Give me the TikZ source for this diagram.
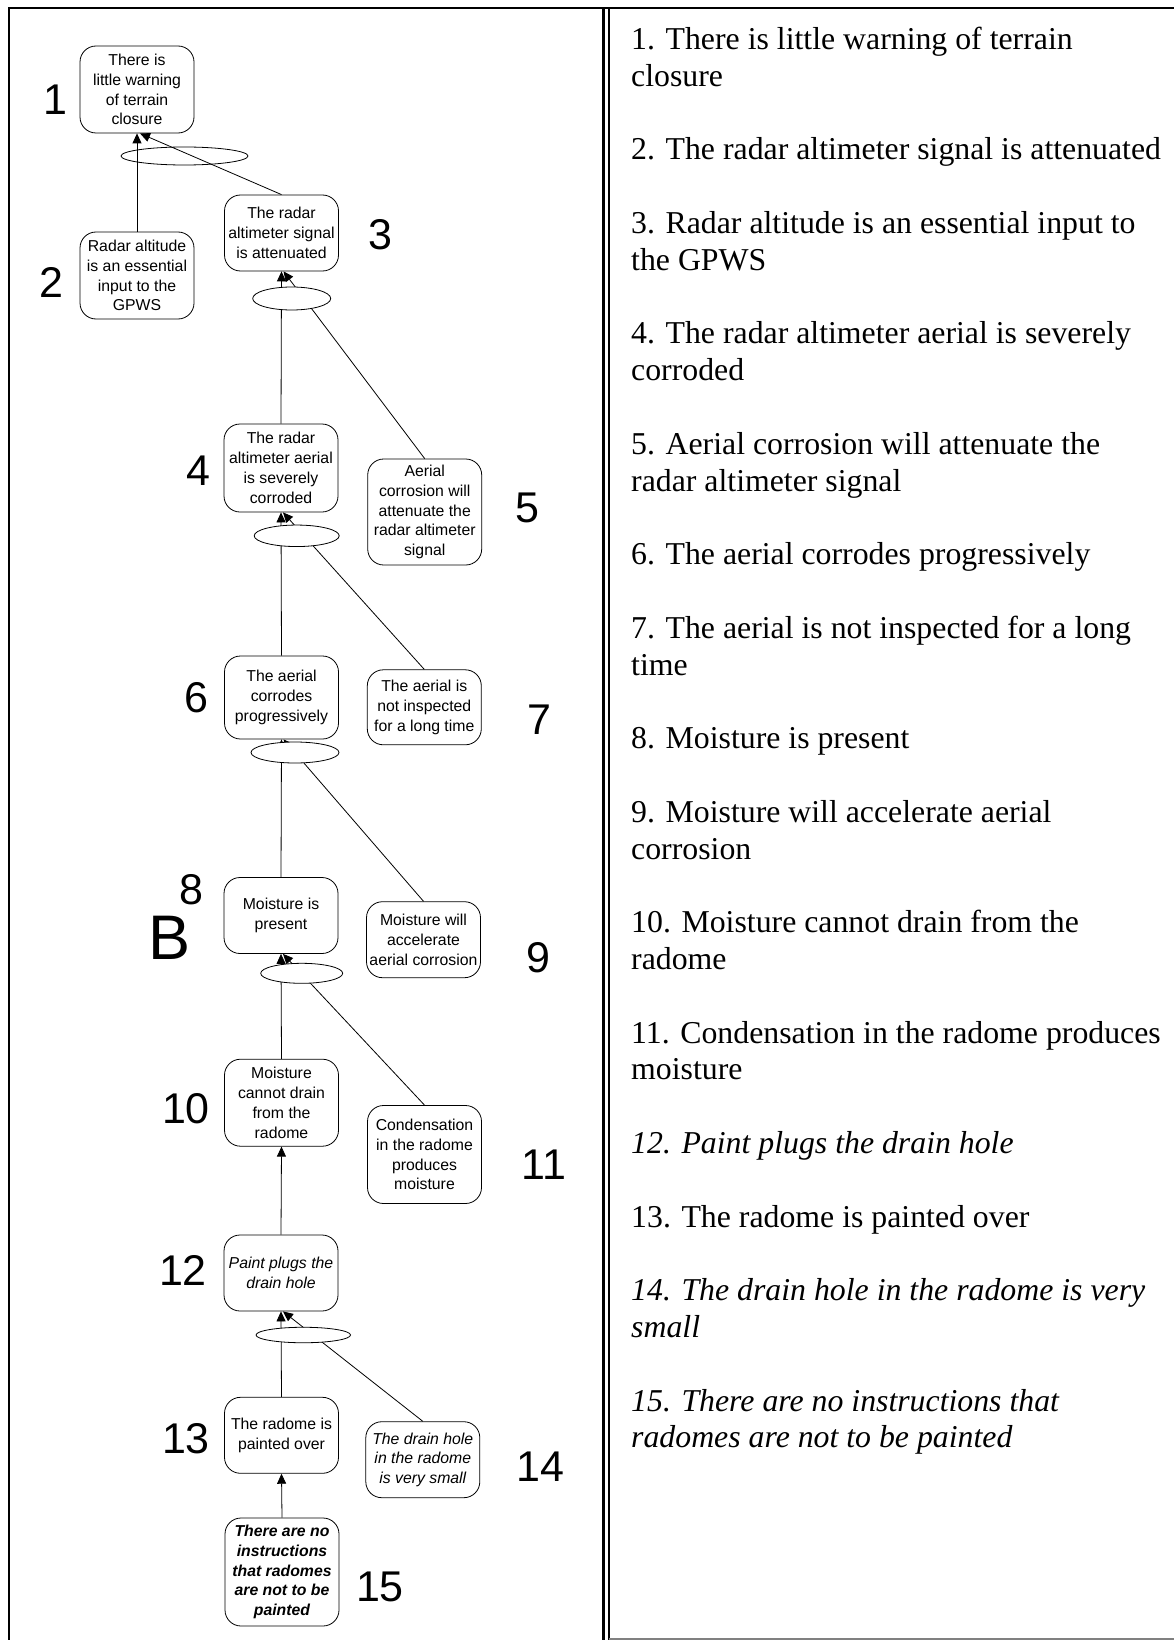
\documentclass[tikz,border=0pt]{standalone}
\usepackage{fontspec}
\setmainfont{Liberation Serif}
\newfontfamily\arial{Liberation Sans}
\usetikzlibrary{arrows.meta,shapes.geometric}

\begin{document}
\begin{tikzpicture}[x=1pt,y=-1pt,
  claim/.style={draw, line width=0.8pt, rounded corners=16pt, minimum width=114pt,
    align=center, inner sep=2pt, font=\arial\fontsize{15.8}{19.8}\selectfont},
  junction/.style={draw, ellipse, line width=0.8pt, inner sep=0pt, fill=white},
  openjunction/.style={draw, ellipse, line width=0.8pt, inner sep=0pt},
  num/.style={font=\arial\fontsize{43}{43}\selectfont, inner sep=0pt},
  link/.style={line width=0.8pt, -{Triangle[length=10pt,width=9pt]}},
  listline/.style={anchor=base west, inner sep=0pt, font=\fontsize{31.8}{36.8}\selectfont},
  panelrule/.style={line width=2.3pt}
]
\useasboundingbox (0,0) rectangle (1174,1640);

% panel frames
\draw[panelrule] (9.2,1640) -- (9.2,7.8) -- (1174,7.8);
\draw[panelrule] (603.5,7.8) -- (603.5,1640);
\draw[panelrule] (608.8,7.8) -- (608.8,1640);
\draw[line width=1.6pt, gray] (608.8,1639.2) -- (1174,1639.2);

% claims
\node[claim, minimum height=87pt] (n1) at (137,89.5) {There is\\little warning\\of terrain\\closure};
\node[claim, minimum height=87pt] (n2) at (137,275.5) {Radar altitude\\is an essential\\input to the\\GPWS};
\node[claim, minimum height=76pt] (n3) at (281.5,233) {The radar\\altimeter signal\\is attenuated};
\node[claim, minimum height=88pt] (n4) at (281,468) {The radar\\altimeter aerial\\is severely\\corroded};
\node[claim, minimum height=106pt] (n5) at (424.7,512) {Aerial\\corrosion will\\attenuate the\\radar altimeter\\signal};
\node[claim, minimum height=83pt] (n6) at (281.5,697.5) {The aerial\\corrodes\\progressively};
\node[claim, minimum height=75pt] (n7) at (424.3,707.3) {The aerial is\\not inspected\\for a long time};
\node[claim, minimum height=76pt] (n8) at (281,915.5) {Moisture is\\present};
\node[claim, minimum height=76pt] (n9) at (423.5,939.7) {Moisture will\\accelerate\\aerial corrosion};
\node[claim, minimum height=87pt] (n10) at (281.5,1102.7) {Moisture\\cannot drain\\from the\\radome};
\node[claim, minimum height=98pt] (n11) at (424.5,1154.5) {Condensation\\in the radome\\produces\\moisture};
\node[claim, minimum height=76pt, font=\arial\itshape\fontsize{15.8}{19.8}\selectfont] (n12) at (281,1273) {Paint plugs the\\drain hole};
\node[claim, minimum height=76pt] (n13) at (281.5,1435.3) {The radome is\\painted over};
\node[claim, minimum height=76pt, font=\arial\itshape\fontsize{15.8}{19.8}\selectfont] (n14) at (422.8,1459.7) {The drain hole\\in the radome\\is very small};
\node[claim, minimum height=108pt, font=\arial\bfseries\itshape\fontsize{15.8}{19.8}\selectfont] (n15) at (282,1572) {There are no\\instructions\\that radomes\\are not to be\\painted};

% inference links
\draw[link] (n2.north) -- (n1.south);
\draw[link] (n3.north) -- ([xshift=3pt]n1.south);
\draw[link] (n4.north) -- (n3.south);
\draw[link] (n5.north) -- ([xshift=2pt]n3.south);
\draw[link] (n6.north) -- (n4.south);
\draw[link] (n7.north) -- ([xshift=2pt]n4.south);
\draw[link] (n8.north) -- (n6.south);
\draw[link] (n9.north) -- ([xshift=2pt]n6.south);
\draw[link] (n10.north) -- (n8.south);
\draw[link] (n11.north) -- ([xshift=2pt]n8.south);
\draw[link] (n12.north) -- (n10.south);
\draw[link] (n13.north) -- (n12.south);
\draw[link] (n14.north) -- ([xshift=2pt]n12.south);
\draw[link] (n15.north) -- (n13.south);

% linked-premise junctions
\node[openjunction, minimum width=127pt, minimum height=18pt] (j1) at (184.5,156) {};
\node[junction, minimum width=78pt, minimum height=23pt] (j2) at (291.7,298.5) {};
\node[junction, minimum width=85pt, minimum height=21.5pt] (j3) at (296.7,535.8) {};
\node[junction, minimum width=88pt, minimum height=21pt] (j4) at (295,752.5) {};
\node[junction, minimum width=82pt, minimum height=20pt] (j5) at (301.7,973.3) {};
\node[junction, minimum width=94.5pt, minimum height=15.5pt] (j6) at (303.3,1335) {};

% claim numbers
\node[num] (l1) at (55,100) {1};
\node[num] (l2) at (51.5,282) {2};
\node[num] (l3) at (380,235) {3};
\node[num] (l4) at (198,471) {4};
\node[num] (l5) at (527,508) {5};
\node[num] (l6) at (196.7,698) {6};
\node[num] (l7) at (539,720) {7};
\node[num] (l8) at (191.7,890) {8};
\node[num, font=\arial\fontsize{63}{63}\selectfont] (lb) at (170,937.5) {B};
\node[num] (l9) at (538,957.5) {9};
\node[num] (l10) at (186,1109) {10};
\node[num] (l11) at (544,1164.5) {11};
\node[num] (l12) at (183,1270) {12};
\node[num] (l13) at (186,1439) {13};
\node[num] (l14) at (540.5,1466.7) {14};
\node[num] (l15) at (380,1586.7) {15};

% numbered list
\node[listline] (t1) at (631,49.5) {1. There is little warning of terrain};
\node[listline] (t1b) at (631,86.3) {closure};
\node[listline] (t2) at (631,159.9) {2. The radar altimeter signal is attenuated};
\node[listline] (t3) at (631,233.5) {3. Radar altitude is an essential input to};
\node[listline] (t3b) at (631,270.3) {the GPWS};
\node[listline] (t4) at (631,343.9) {4. The radar altimeter aerial is severely};
\node[listline] (t4b) at (631,380.7) {corroded};
\node[listline] (t5) at (631,454.3) {5. Aerial corrosion will attenuate the};
\node[listline] (t5b) at (631,491.1) {radar altimeter signal};
\node[listline] (t6) at (631,564.7) {6. The aerial corrodes progressively};
\node[listline] (t7) at (631,638.3) {7. The aerial is not inspected for a long};
\node[listline] (t7b) at (631,675.1) {time};
\node[listline] (t8) at (631,748.7) {8. Moisture is present};
\node[listline] (t9) at (631,822.3) {9. Moisture will accelerate aerial};
\node[listline] (t9b) at (631,859.1) {corrosion};
\node[listline] (t10) at (631,932.7) {10. Moisture cannot drain from the};
\node[listline] (t10b) at (631,969.5) {radome};
\node[listline] (t11) at (631,1043.1) {11. Condensation in the radome produces};
\node[listline] (t11b) at (631,1079.9) {moisture};
\node[listline, font=\itshape\fontsize{31.8}{36.8}\selectfont] (t12) at (631,1153.5) {12. Paint plugs the drain hole};
\node[listline] (t13) at (631,1227.1) {13. The radome is painted over};
\node[listline, font=\itshape\fontsize{31.8}{36.8}\selectfont] (t14) at (631,1300.7) {14. The drain hole in the radome is very};
\node[listline, font=\itshape\fontsize{31.8}{36.8}\selectfont] (t14b) at (631,1337.5) {small};
\node[listline, font=\itshape\fontsize{31.8}{36.8}\selectfont] (t15) at (631,1411.1) {15. There are no instructions that};
\node[listline, font=\itshape\fontsize{31.8}{36.8}\selectfont] (t15b) at (631,1447.9) {radomes are not to be painted};
\end{tikzpicture}
\end{document}
